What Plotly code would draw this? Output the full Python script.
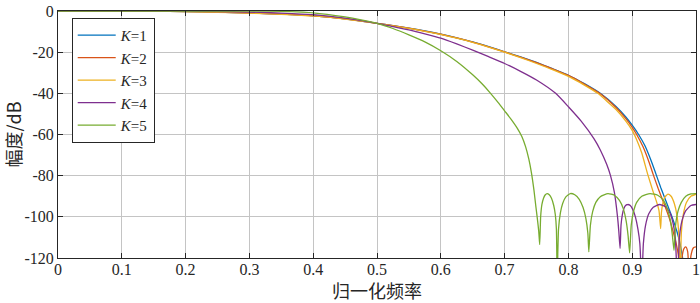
import plotly.graph_objects as go

# ---------------- data ----------------
k1_x = [0, 0.1, 0.15, 0.2, 0.25, 0.3, 0.35, 0.4, 0.45, 0.5, 0.525, 0.55, 0.575, 0.6, 0.625, 0.65,
        0.675, 0.7, 0.725, 0.75, 0.775, 0.8, 0.825, 0.85, 0.875, 0.89, 0.9, 0.91, 0.92, 0.93,
        0.937, 0.945, 0.955, 0.963, 0.97, 0.975, 0.979, 0.982]
k1_y = [0, 0, -0.05, -0.25, -0.55, -0.95, -1.5, -2.3, -3.8, -6, -7.1, -8.3, -9.7, -11.2, -13, -15,
        -17.3, -19.8, -22.3, -25, -28, -31.2, -35.3, -40, -46.5, -51.5, -55.5, -60, -65.5, -73,
        -79, -86, -94, -100.5, -107, -113, -120, -132]

k2_x = [0, 0.1, 0.15, 0.2, 0.25, 0.3, 0.35, 0.4, 0.45, 0.5, 0.525, 0.55, 0.575, 0.6, 0.625, 0.65,
        0.675, 0.7, 0.725, 0.75, 0.775, 0.8, 0.825, 0.85, 0.875, 0.89, 0.9, 0.907, 0.917, 0.927,
        0.933, 0.941, 0.951, 0.958, 0.964, 0.969, 0.973, 0.976,
        0.978, 0.981, 0.984, 0.987, 0.9895, 0.992, 0.996, 1.0]
k2_y = [0, 0, -0.05, -0.27, -0.57, -0.97, -1.55, -2.35, -3.85, -6, -7.15, -8.35, -9.8, -11.3, -13.1, -15.1,
        -17.4, -19.9, -22.4, -25.1, -28.1, -31.3, -35.5, -40.2, -47, -52.3, -56.5, -60, -66, -74,
        -79.5, -86.5, -94.5, -100.5, -107, -113, -120, -132,
        -120, -115.5, -114.6, -117, -132, -119, -115, -114.6]

k3_x = [0, 0.1, 0.15, 0.2, 0.25, 0.3, 0.35, 0.4, 0.45, 0.5, 0.525, 0.55, 0.575, 0.6, 0.625, 0.65,
        0.675, 0.7, 0.725, 0.75, 0.775, 0.8, 0.825, 0.846, 0.875, 0.89, 0.9, 0.907, 0.915, 0.924,
        0.932, 0.938, 0.942, 0.9446,
        0.9458, 0.948, 0.951, 0.956, 0.961, 0.966, 0.970, 0.973, 0.975,
        0.977, 0.98, 0.985, 0.992, 1.0]
k3_y = [0, 0, -0.06, -0.3, -0.6, -1.0, -1.6, -2.4, -3.9, -6, -7.2, -8.4, -9.85, -11.4, -13.2, -15.2,
        -17.5, -20, -22.6, -25.5, -28.5, -31.8, -36, -40, -48, -53.5, -58, -62.5, -69, -79,
        -87, -92.5, -97, -105.7,
        -98, -93.5, -90.5, -89, -90, -93.5, -99, -108, -132,
        -108, -99, -93, -90, -89]

k4_x = [0, 0.1, 0.15, 0.2, 0.25, 0.3, 0.35, 0.4, 0.45, 0.5, 0.525, 0.55, 0.575, 0.6, 0.625, 0.65,
        0.675, 0.7, 0.725, 0.75, 0.78, 0.8, 0.82, 0.84, 0.85, 0.86, 0.866, 0.872, 0.877, 0.879, 0.881,
        0.8825, 0.8845, 0.887, 0.89, 0.893, 0.897, 0.901, 0.905, 0.909, 0.912, 0.915,
        0.9175, 0.921, 0.926, 0.933, 0.943, 0.952, 0.959, 0.964, 0.9675, 0.971,
        0.974, 0.978, 0.984, 0.992, 1.0]
k4_y = [0, 0, -0.02, -0.1, -0.25, -0.5, -1.0, -1.8, -3.5, -6, -7.6, -9.2, -11.1, -13.2, -16, -19,
        -22.2, -25.5, -29.3, -33.5, -40, -46.5, -53.5, -62, -67.5, -74.5, -80, -88, -100, -107, -115.4,
        -104, -99, -96, -94.4, -94, -94.5, -96.5, -100, -106, -113, -132,
        -113, -104, -98.5, -95.3, -94, -95, -98, -103, -110, -132,
        -110, -102, -97, -94.5, -94]

k5_x = [0, 0.1, 0.2, 0.25, 0.3, 0.35, 0.4, 0.45, 0.475, 0.5, 0.525, 0.55, 0.575, 0.6, 0.625, 0.65,
        0.665, 0.678, 0.69, 0.7, 0.71, 0.72, 0.727, 0.733, 0.738, 0.742, 0.746, 0.749, 0.751, 0.7535, 0.755,
        0.7565, 0.7585, 0.761, 0.7635, 0.7667, 0.770, 0.7735, 0.777, 0.7795, 0.7812, 0.7824,
        0.7845, 0.7875, 0.791, 0.796, 0.803, 0.81, 0.817, 0.823, 0.8275, 0.8305, 0.832,
        0.8345, 0.838, 0.843, 0.85, 0.862, 0.872, 0.88, 0.886, 0.8905, 0.8935, 0.896,
        0.8985, 0.902, 0.907, 0.915, 0.928, 0.94, 0.949, 0.955, 0.96, 0.963, 0.9655,
        0.968, 0.972, 0.977, 0.984, 0.992, 1.0]
k5_y = [0, 0, 0, -0.02, -0.05, -0.2, -0.9, -2.9, -4.3, -6, -8.5, -11.6, -15, -19.3, -24.5, -31,
        -35.5, -40, -44.5, -48.5, -52.5, -57, -61, -66, -72, -78.5, -87, -95, -100, -107, -113.5,
        -100, -94, -91, -89.4, -88.7, -89.3, -91, -94.5, -99, -106, -130,
        -106, -98, -93.5, -90.3, -88.7, -89.3, -91.5, -95.5, -101, -108, -117,
        -104, -97.5, -93, -90.2, -88.7, -89.5, -92, -96, -102, -109, -117.5,
        -104, -97.5, -93, -90, -88.7, -89.5, -92, -96, -102, -109, -116.3,
        -104, -97, -93, -90, -88.9, -88.7]

series_names = ["<i>K</i>=1", "<i>K</i>=2", "<i>K</i>=3", "<i>K</i>=4", "<i>K</i>=5"]
series_x = [k1_x, k2_x, k3_x, k4_x, k5_x]
series_y = [k1_y, k2_y, k3_y, k4_y, k5_y]
colors = ["#0072BD", "#D95319", "#EDB120", "#7E2F8E", "#77AC30"]

x_tickvals = [0, 0.1, 0.2, 0.3, 0.4, 0.5, 0.6, 0.7, 0.8, 0.9, 1]
x_ticktext = ["0", "0.1", "0.2", "0.3", "0.4", "0.5", "0.6", "0.7", "0.8", "0.9", "1"]
y_tickvals = [0, -20, -40, -60, -80, -100, -120]
y_ticktext = ["0", "-20", "-40", "-60", "-80", "-100", "-120"]

x_title = "归一化频率"
y_title = "幅度/dB"

# ---------------- figure ----------------
FONT = "Liberation Serif, Times New Roman, Noto Sans CJK SC, serif"
CJK = "Noto Sans CJK SC, Liberation Serif"
AX = "#262626"
GRID = "#c4c4c4"

fig = go.Figure()
for name, xs, ys, c in zip(series_names, series_x, series_y, colors):
    fig.add_trace(go.Scatter(x=xs, y=ys, mode="lines", name=name,
                             line=dict(color=c, width=1.3, shape="spline", smoothing=0.5)))

axis_common = dict(
    showline=True, linecolor=AX, linewidth=1, mirror="ticks",
    ticks="inside", ticklen=5, tickwidth=1, tickcolor=AX,
    showgrid=True, gridcolor=GRID, gridwidth=1,
    zeroline=False, automargin=False,
    tickfont=dict(family=FONT, size=16, color=AX),
)

fig.update_layout(
    width=700, height=303,
    margin=dict(l=58, r=4, t=11, b=45),
    paper_bgcolor="white", plot_bgcolor="white",
    font=dict(family=FONT, size=16, color=AX),
    showlegend=True,
    legend=dict(x=0.0215, y=0.972, xanchor="left", yanchor="top",
                bgcolor="white", bordercolor=AX, borderwidth=1,
                font=dict(family=FONT, size=15, color=AX),
                tracegroupgap=0, itemwidth=38),
    xaxis=dict(range=[0, 1], tickvals=x_tickvals, ticktext=x_ticktext,
               ticklabelstandoff=-3,
               title=dict(text=x_title, standoff=6,
                          font=dict(family=CJK, size=18, color=AX)),
               **axis_common),
    yaxis=dict(range=[-120, 0], tickvals=y_tickvals, ticktext=y_ticktext,
               title=dict(text=y_title, standoff=0,
                          font=dict(family=CJK, size=18, color=AX)),
               **axis_common),
)

fig.write_html("out.html", config={"displayModeBar": False},
               post_script="document.body.style.margin='0';")
